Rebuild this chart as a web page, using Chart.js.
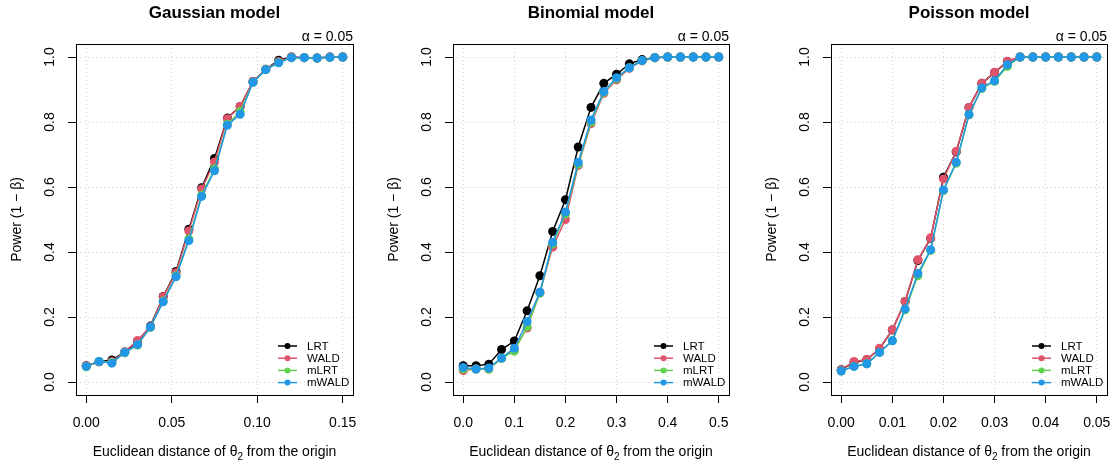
<!DOCTYPE html>
<html>
<head>
<meta charset="utf-8">
<script src="https://cdn.jsdelivr.net/npm/chart.js@4.4.0/dist/chart.umd.min.js"></script>
<style>
  body { margin: 0; background: #fff; }
  #wrap { position: relative; width: 1113px; height: 465px; overflow: hidden; background: #fff; }
  canvas { position: absolute; top: 0; }
</style>
</head>
<body>
<div id="wrap">
  <canvas id="c1" width="377" height="465" style="left:0px"></canvas>
  <canvas id="c2" width="377" height="465" style="left:377px"></canvas>
  <canvas id="c3" width="377" height="465" style="left:755px"></canvas>
</div>
<script>
const seriesNames = ["LRT", "WALD", "mLRT", "mWALD"];
const seriesColors = ["#000000", "#DF536B", "#61D04F", "#2297E6"];
const powerTicks = [0, 0.2, 0.4, 0.6, 0.8, 1.0];

// Gaussian model
const gaussDist = [0, 0.0075, 0.015, 0.0225, 0.03, 0.0375, 0.045, 0.0525, 0.06, 0.0675, 0.075,
  0.0825, 0.09, 0.0975, 0.105, 0.1125, 0.12, 0.1275, 0.135, 0.1425, 0.15];
const gaussTicks = [0, 0.05, 0.10, 0.15];
const gaussLRT   = [0.050, 0.062, 0.068, 0.092, 0.125, 0.172, 0.263, 0.340, 0.470, 0.598, 0.688, 0.812, 0.848, 0.925, 0.962, 0.990, 1.000, 0.998, 0.997, 1.000, 1.000];
const gaussWALD  = [0.050, 0.062, 0.063, 0.093, 0.128, 0.170, 0.262, 0.336, 0.465, 0.594, 0.677, 0.810, 0.848, 0.925, 0.962, 0.986, 0.999, 0.998, 0.997, 1.000, 1.000];
const gaussMLRT  = [0.047, 0.063, 0.060, 0.090, 0.114, 0.168, 0.249, 0.327, 0.440, 0.575, 0.656, 0.793, 0.832, 0.922, 0.961, 0.983, 0.998, 0.998, 0.997, 0.999, 1.000];
const gaussMWALD = [0.048, 0.063, 0.058, 0.091, 0.115, 0.169, 0.247, 0.324, 0.435, 0.571, 0.650, 0.790, 0.824, 0.922, 0.961, 0.982, 0.998, 0.998, 0.997, 0.999, 1.000];

// Binomial model
const binomDist = [0, 0.025, 0.05, 0.075, 0.1, 0.125, 0.15, 0.175, 0.2, 0.225, 0.25,
  0.275, 0.3, 0.325, 0.35, 0.375, 0.4, 0.425, 0.45, 0.475, 0.5];
const binomTicks = [0, 0.1, 0.2, 0.3, 0.4, 0.5];
const binomLRT   = [0.050, 0.050, 0.055, 0.100, 0.126, 0.219, 0.327, 0.463, 0.561, 0.723, 0.845, 0.919, 0.947, 0.979, 0.992, 0.998, 1.000, 1.000, 1.000, 1.000, 1.000];
const binomWALD  = [0.035, 0.040, 0.040, 0.073, 0.100, 0.166, 0.276, 0.415, 0.500, 0.666, 0.795, 0.888, 0.930, 0.965, 0.988, 0.998, 1.000, 1.000, 1.000, 1.000, 1.000];
const binomMLRT  = [0.040, 0.040, 0.040, 0.073, 0.095, 0.170, 0.273, 0.425, 0.517, 0.670, 0.800, 0.891, 0.934, 0.967, 0.989, 0.998, 1.000, 1.000, 1.000, 1.000, 1.000];
const binomMWALD = [0.045, 0.040, 0.043, 0.074, 0.104, 0.186, 0.276, 0.430, 0.523, 0.676, 0.806, 0.894, 0.936, 0.967, 0.989, 0.998, 1.000, 1.000, 1.000, 1.000, 1.000];

// Poisson model
const poisDist = [0, 0.0025, 0.005, 0.0075, 0.01, 0.0125, 0.015, 0.0175, 0.02, 0.0225, 0.025,
  0.0275, 0.03, 0.0325, 0.035, 0.0375, 0.04, 0.0425, 0.045, 0.0475, 0.05];
const poisTicks = [0, 0.01, 0.02, 0.03, 0.04, 0.05];
const poisLRT   = [0.038, 0.060, 0.069, 0.102, 0.160, 0.248, 0.374, 0.442, 0.630, 0.708, 0.845, 0.919, 0.952, 0.986, 1.000, 1.000, 1.000, 1.000, 1.000, 1.000, 1.000];
const poisWALD  = [0.038, 0.063, 0.069, 0.104, 0.161, 0.248, 0.376, 0.444, 0.625, 0.710, 0.845, 0.919, 0.953, 0.987, 1.000, 1.000, 1.000, 1.000, 1.000, 1.000, 1.000];
const poisMLRT  = [0.034, 0.048, 0.056, 0.091, 0.127, 0.222, 0.327, 0.405, 0.589, 0.673, 0.822, 0.903, 0.925, 0.971, 1.000, 1.000, 1.000, 1.000, 1.000, 1.000, 1.000];
const poisMWALD = [0.034, 0.048, 0.056, 0.091, 0.127, 0.225, 0.334, 0.407, 0.591, 0.676, 0.823, 0.905, 0.927, 0.976, 1.000, 1.000, 1.000, 1.000, 1.000, 1.000, 1.000];

const FONT = '"Liberation Sans", Arial, Helvetica, sans-serif';

// R style extras: box, rotated y labels, titles, legend
const rDecor = {
  id: 'rDecor',
  afterDraw(chart, args, o) {
    const ctx = chart.ctx;
    const a = chart.chartArea;
    const ys = chart.scales.y;
    ctx.save();
    ctx.fillStyle = '#000';
    ctx.strokeStyle = '#000';
    ctx.lineWidth = 1;
    ctx.strokeRect(Math.round(a.left) + 0.5, Math.round(a.top) + 0.5,
      Math.round(a.right - a.left), Math.round(a.bottom - a.top));

    // y tick labels (parallel to axis)
    ctx.font = '14px ' + FONT;
    ctx.textAlign = 'center';
    ctx.textBaseline = 'middle';
    ys.ticks.forEach(t => {
      ctx.save();
      ctx.translate(a.left - 26, ys.getPixelForValue(t.value));
      ctx.rotate(-Math.PI / 2);
      ctx.fillText(t.value.toFixed(1), 0, 0);
      ctx.restore();
    });

    // y axis title
    ctx.save();
    ctx.translate(17, (a.top + a.bottom) / 2);
    ctx.rotate(-Math.PI / 2);
    ctx.fillText('Power (1 \u2212 \u03B2)', 0, 0);
    ctx.restore();

    // x axis title with subscript
    const p1 = 'Euclidean distance of \u03B8', p2 = '2', p3 = ' from the origin';
    ctx.font = '14px ' + FONT;
    const w1 = ctx.measureText(p1).width, w3 = ctx.measureText(p3).width;
    ctx.font = '10px ' + FONT;
    const w2 = ctx.measureText(p2).width;
    let x = (a.left + a.right) / 2 - (w1 + w2 + w3) / 2;
    ctx.textAlign = 'left';
    ctx.textBaseline = 'alphabetic';
    ctx.font = '14px ' + FONT;
    ctx.fillText(p1, x, 456);
    ctx.font = '10px ' + FONT;
    ctx.fillText(p2, x + w1, 460);
    ctx.font = '14px ' + FONT;
    ctx.fillText(p3, x + w1 + w2, 456);

    // main title
    ctx.font = 'bold 17px ' + FONT;
    ctx.textAlign = 'center';
    ctx.textBaseline = 'middle';
    ctx.fillText(o.title, (a.left + a.right) / 2, 13);

    // alpha label
    ctx.font = '14px ' + FONT;
    ctx.textAlign = 'right';
    ctx.textBaseline = 'alphabetic';
    ctx.fillText('\u03B1 = 0.05', a.right, 41);

    // legend
    ctx.font = '11.5px ' + FONT;
    ctx.textAlign = 'left';
    ctx.textBaseline = 'middle';
    seriesNames.forEach((n, i) => {
      const ly = a.bottom - 49 + i * 12.2;
      const lx = a.right - 75;
      ctx.strokeStyle = seriesColors[i];
      ctx.fillStyle = seriesColors[i];
      ctx.lineWidth = 1.5;
      ctx.beginPath();
      ctx.moveTo(lx, ly);
      ctx.lineTo(lx + 19, ly);
      ctx.stroke();
      ctx.beginPath();
      ctx.arc(lx + 9.5, ly, 3, 0, Math.PI * 2);
      ctx.fill();
      ctx.fillStyle = '#000';
      ctx.fillText(n, lx + 29, ly + 0.5);
    });
    ctx.restore();
  }
};

function makeChart(id, title, dist, series, xTicks, dec, padRight) {
  const lo = dist[0], hi = dist[dist.length - 1];
  const ext = (hi - lo) * 0.04;
  const gridOpts = { color: '#cfcfcf', lineWidth: 1, tickColor: '#000', tickLength: 8, tickWidth: 1, tickBorderDash: [] };
  return new Chart(document.getElementById(id), {
    type: 'line',
    data: {
      datasets: seriesNames.map((n, i) => ({
        label: n,
        data: dist.map((d, j) => ({ x: d, y: series[i][j] })),
        borderColor: seriesColors[i],
        backgroundColor: seriesColors[i],
        borderWidth: 1.5,
        pointRadius: 4.5,
        pointHoverRadius: 4.5,
        pointBorderWidth: 0,
        tension: 0,
        order: 4 - i
      }))
    },
    options: {
      responsive: false,
      animation: false,
      devicePixelRatio: 1,
      layout: { padding: { top: 44, right: padRight, left: 0, bottom: 0 } },
      plugins: { legend: { display: false }, tooltip: { enabled: false }, title: { display: false }, rDecor: { title } },
      scales: {
        x: {
          type: 'linear', min: lo - ext, max: hi + ext,
          afterBuildTicks: s => { s.ticks = xTicks.map(v => ({ value: v })); },
          afterFit: s => { s.height = 70; },
          ticks: { callback: v => v.toFixed(dec), color: '#000', font: { family: FONT, size: 14 }, padding: 12, maxRotation: 0, autoSkip: false },
          grid: gridOpts,
          border: { display: false, dash: [1, 3] }
        },
        y: {
          type: 'linear', min: -0.04, max: 1.04,
          afterBuildTicks: s => { s.ticks = powerTicks.map(v => ({ value: v })); },
          afterFit: s => { s.width = 76; },
          ticks: { display: false },
          grid: gridOpts,
          border: { display: false, dash: [1, 3] }
        }
      }
    },
    plugins: [rDecor]
  });
}

makeChart('c1', 'Gaussian model', gaussDist, [gaussLRT, gaussWALD, gaussMLRT, gaussMWALD], gaussTicks, 2, 24);
makeChart('c2', 'Binomial model', binomDist, [binomLRT, binomWALD, binomMLRT, binomMWALD], binomTicks, 1, 25);
makeChart('c3', 'Poisson model', poisDist, [poisLRT, poisWALD, poisMLRT, poisMWALD], poisTicks, 2, 25);
</script>
</body>
</html>
